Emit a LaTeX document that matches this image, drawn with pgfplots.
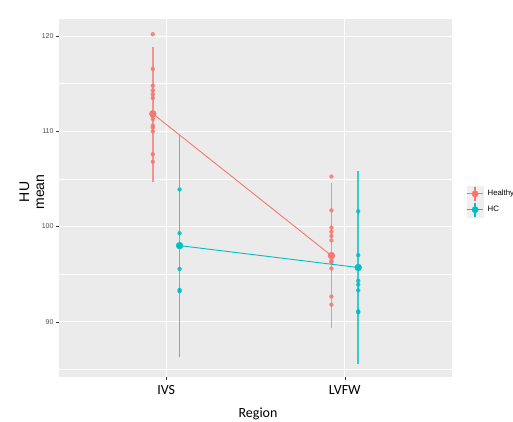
\documentclass[border=0pt]{standalone}
\usepackage{pgfplots}
\pgfplotsset{compat=1.18}
\usepackage{fontspec}
\setmainfont{Liberation Sans}
\newfontfamily\calibri{Carlito}
\definecolor{healthy}{HTML}{F8766D}
\definecolor{hcc}{HTML}{00BFC4}
\definecolor{panel}{HTML}{EBEBEB}
\definecolor{keybg}{HTML}{EFEFEF}
\definecolor{ticklab}{HTML}{4D4D4D}
\begin{document}
\begin{tikzpicture}[x=1pt,y=1pt]
\path[use as bounding box] (0,0) rectangle (513,422);
\begin{axis}[
  at={(59pt,45pt)}, anchor=south west,
  scale only axis, width=393pt, height=358pt,
  xmin=0.4, xmax=2.6, ymin=84.2, ymax=121.8,
  xtick={1,2}, xticklabels={IVS,LVFW},
  ytick={90,100,110,120},
  minor ytick={85,95,105,115},
  xmajorgrids, ymajorgrids, yminorgrids,
  major grid style={white, line width=1.1pt},
  minor grid style={white, line width=0.55pt},
  axis background/.style={fill=panel},
  axis line style={draw=none},
  tick align=outside, xtick pos=bottom, ytick pos=left,
  major tick length=3pt, minor tick length=0pt,
  tick style={color=black!80, line width=0.5pt},
  /pgf/number format/assume math mode=true,
  yticklabel style={font=\fontsize{7}{8}\selectfont, text=ticklab, xshift=1pt},
  xticklabel style={font=\calibri\fontsize{14}{16}\selectfont, text=black, yshift=-2pt},
  legend style={at={(1.038,0.5335)}, anchor=north west, draw=none, fill=none,
    inner sep=0pt, outer sep=0pt, row sep=0pt,
    font=\fontsize{7.8}{9}\selectfont,
    nodes={inner sep=0.3pt},
    /tikz/every odd column/.append style={column sep=4pt}},
  legend cell align=left,
  legend image code/.code={
    \fill[keybg] (0pt,-7.7pt) rectangle (15.5pt,7.7pt);
    \draw[line width=0.9pt] (0pt,0pt) -- (15.5pt,0pt);
    \draw[line width=1.3pt] (7.75pt,-7pt) -- (7.75pt,7pt);
    \fill (7.75pt,0pt) circle (3.2pt);
  },
]
% error ranges
\addplot[healthy, opacity=0.75, line width=1.5pt, forget plot] coordinates {(0.925,104.7) (0.925,118.9)};
\addplot[healthy, opacity=0.75, line width=1.5pt, forget plot] coordinates {(1.925,89.3) (1.925,104.6)};
\addplot[hcc, opacity=0.75, line width=1.5pt, forget plot] coordinates {(1.075,86.3) (1.075,109.7)};
\addplot[hcc, opacity=0.75, line width=1.5pt, forget plot] coordinates {(2.075,85.6) (2.075,105.85)};
% mean lines
\addplot[healthy, line width=0.9pt, forget plot] coordinates {(0.925,111.85) (1.925,96.95)};
\addplot[hcc, line width=0.9pt, forget plot] coordinates {(1.075,98.0) (2.075,95.7)};
% individual points
\addplot[only marks, mark=*, mark size=2.2pt, color=healthy, fill opacity=0.85, draw opacity=0, forget plot] coordinates {
 (0.925,120.2) (0.925,116.55) (0.925,114.8) (0.925,114.3) (0.925,113.9) (0.925,113.5)
 (0.925,111.6) (0.925,111.3) (0.925,110.6) (0.925,110.4) (0.925,110.0) (0.925,107.6) (0.925,106.8)
 (1.925,105.25) (1.925,101.7) (1.925,99.9) (1.925,99.45) (1.925,99.0) (1.925,98.55)
 (1.925,96.4) (1.925,96.25) (1.925,95.6) (1.925,92.65) (1.925,91.8)};
\addplot[only marks, mark=*, mark size=2.2pt, color=hcc, fill opacity=0.85, draw opacity=0, forget plot] coordinates {
 (1.075,103.9) (1.075,99.3) (1.075,95.55) (1.075,93.35) (1.075,93.2)
 (2.075,101.6) (2.075,97.0) (2.075,94.3) (2.075,93.9) (2.075,93.3) (2.075,91.1) (2.075,91.0)};
% means
\addplot[only marks, mark=*, mark size=3.4pt, color=healthy, forget plot] coordinates {(0.925,111.85) (1.925,96.95)};
\addplot[only marks, mark=*, mark size=3.4pt, color=hcc, forget plot] coordinates {(1.075,98.0) (2.075,95.7)};
\addlegendimage{healthy}
\addlegendentry{Healthy}
\addlegendimage{hcc}
\addlegendentry{HC}
\node[anchor=west, font=\fontsize{8.5}{10}\selectfont, inner sep=0pt] at (rel axis cs:1.038,0.5615) {Pathology};
\end{axis}
\node[rotate=90, align=center, font=\fontsize{14}{15}\selectfont, inner sep=0pt] at (32,230) {HU\\mean};
\node[font=\calibri\fontsize{14}{16}\selectfont, inner sep=0pt] at (258,8) {Region};
\end{tikzpicture}
\end{document}
